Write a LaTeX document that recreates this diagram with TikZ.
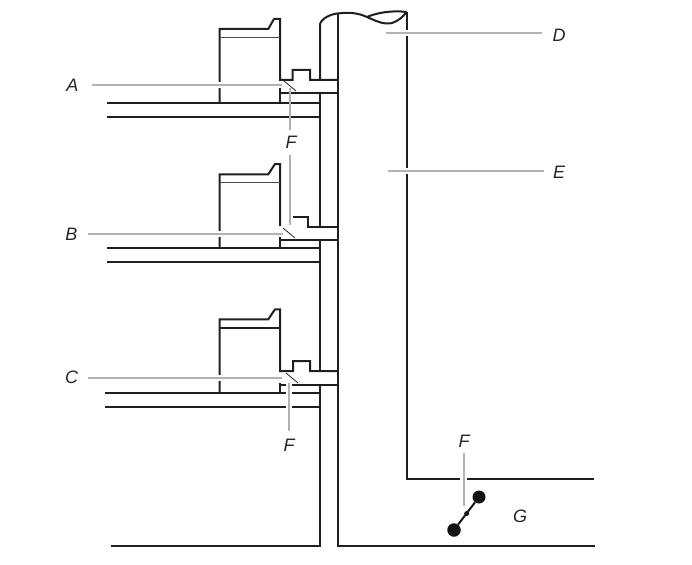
\documentclass[tikz,border=0pt]{standalone}
\usepackage{fontspec}
\setmainfont{Liberation Sans}
\begin{document}
\begin{tikzpicture}[x=1pt,y=-1pt,
  wall/.style={line width=2pt,draw=black!88,line join=miter},
  thinw/.style={line width=1.4pt,draw=black!70},
  halo/.style={line width=6.5pt,draw=white},
  lead/.style={line width=2pt,draw=black!30},
  tick/.style={line width=0.8pt,draw=black!85},
  lab/.style={font=\itshape\fontsize{18}{18}\selectfont,text=black!85,inner sep=0pt,anchor=center},
  blob/.style={circle,fill=black!92,draw=none,inner sep=0pt,minimum size=#1}]
\useasboundingbox (0,0) rectangle (692,564);
% outer structure
\draw[wall] (320,93)--(320,226.5);
\draw[wall] (320,240)--(320,371);
\draw[wall] (320,385)--(320,546)--(111,546);
\draw[wall] (320,80)--(320,24) .. controls (322,18) and (331,14) .. (338,13.5);
\draw[wall] (337.5,13.5)--(337.5,546)--(595,546);
\draw[wall] (337.5,13.5) .. controls (350,12) and (358,13) .. (367,17) .. controls (376,21) and (384,25) .. (392,23) .. controls (398,21) and (403,17) .. (406.5,12);
\draw[wall] (367,17) .. controls (376,13) and (392,10) .. (406.5,12);
\draw[wall] (406.5,12)--(406.5,479)--(594,479);
% unit A
\draw[wall] (219.5,103)--(219.5,29)--(268.3,29)--(274,19)--(280,19)--(280,80)--(292.5,80)--(292.5,70)--(310,70)--(310,80)--(338,80);
\draw[thinw] (219.5,37.7)--(280,37.7);
\draw[wall] (280,88)--(280,103);
\draw[wall] (280,93.3)--(339,93.3);
\draw[wall] (107,103)--(320,103);
\draw[wall] (107,116.7)--(320,116.7);
% unit B
\draw[wall] (219.5,248)--(219.5,174.3)--(268.3,174.3)--(275,164)--(280,164)--(280,226);
\draw[thinw] (219.5,182.7)--(280,182.7);
\draw[wall] (293,217)--(308,217)--(308,226.5)--(338,226.5);
\draw[wall] (280,236)--(280,248);
\draw[wall] (280,240)--(339,240);
\draw[wall] (107,248)--(320,248);
\draw[wall] (107,262)--(320,262);
% unit C
\draw[wall] (219.5,393)--(219.5,319.3)--(268.3,319.3)--(275,309.3)--(280,309.3)--(280,371)--(293,371)--(293,361)--(310,361)--(310,371)--(338,371);
\draw[wall] (219.5,327.7)--(280,327.7);
\draw[wall] (280,383)--(280,393);
\draw[wall] (280,385)--(339,385);
\draw[wall] (105,393)--(320,393);
\draw[wall] (105,407)--(320,407);
% small ticks
\coordinate (ta1) at (284,81); \coordinate (ta2) at (296,91);
\coordinate (tb1) at (283,228); \coordinate (tb2) at (295,238);
\coordinate (tc1) at (286,373); \coordinate (tc2) at (298,383);
\draw[tick] (ta1)--(ta2);
\draw[tick] (tb1)--(tb2);
\draw[tick] (tc1)--(tc2);
% labels
\node[lab] (A) at (72.5,85.5) {A};
\node[lab] (B) at (71.5,234) {B};
\node[lab] (C) at (71.5,377) {C};
\node[lab] (D) at (559,35) {D};
\node[lab] (E) at (559,172) {E};
\node[lab] (F1) at (291,142) {F};
\node[lab] (F2) at (289,445) {F};
\node[lab] (F3) at (464,441) {F};
\node[lab] (G) at (520,516.5) {G};
% valve
\node[blob=13pt] (v1) at (479,497) {};
\node[blob=13.5pt] (v2) at (454,530) {};
\node[blob=5pt] (v3) at (466.7,513.5) {};
\draw[line width=2pt,black!90] (v1)--(v2);
% leaders
\coordinate (la) at (282,85);
\coordinate (lb) at (283,234);
\coordinate (lc) at (282,378);
\coordinate (ld) at (386,33);
\coordinate (le) at (388,171);
\coordinate (lf) at (290,88);
\coordinate (lg) at (289.5,225);
\coordinate (lh) at (289,383);
\coordinate (li) at (463.5,506);
\coordinate (a0) at (92,85); \coordinate (b0) at (88,234); \coordinate (c0) at (88,378);
\coordinate (d0) at (542,33); \coordinate (e0) at (544,171);
\coordinate (f0) at (290,130); \coordinate (g0) at (289.5,155); \coordinate (h0) at (289,431); \coordinate (i0) at (463.5,453);
\draw[halo] (a0)--(la);
\draw[halo] (b0)--(lb);
\draw[halo] (c0)--(lc);
\draw[halo] (d0)--(ld);
\draw[halo] (e0)--(le);
\draw[halo] (h0)--(lh);
\draw[halo] (i0)--(li);
\draw[lead] (a0)--(la);
\draw[lead] (b0)--(lb);
\draw[lead] (c0)--(lc);
\draw[lead] (d0)--(ld);
\draw[lead] (e0)--(le);
\draw[lead] (f0)--(lf);
\draw[lead] (g0)--(lg);
\draw[lead] (h0)--(lh);
\draw[lead] (i0)--(li);
\end{tikzpicture}
\end{document}
